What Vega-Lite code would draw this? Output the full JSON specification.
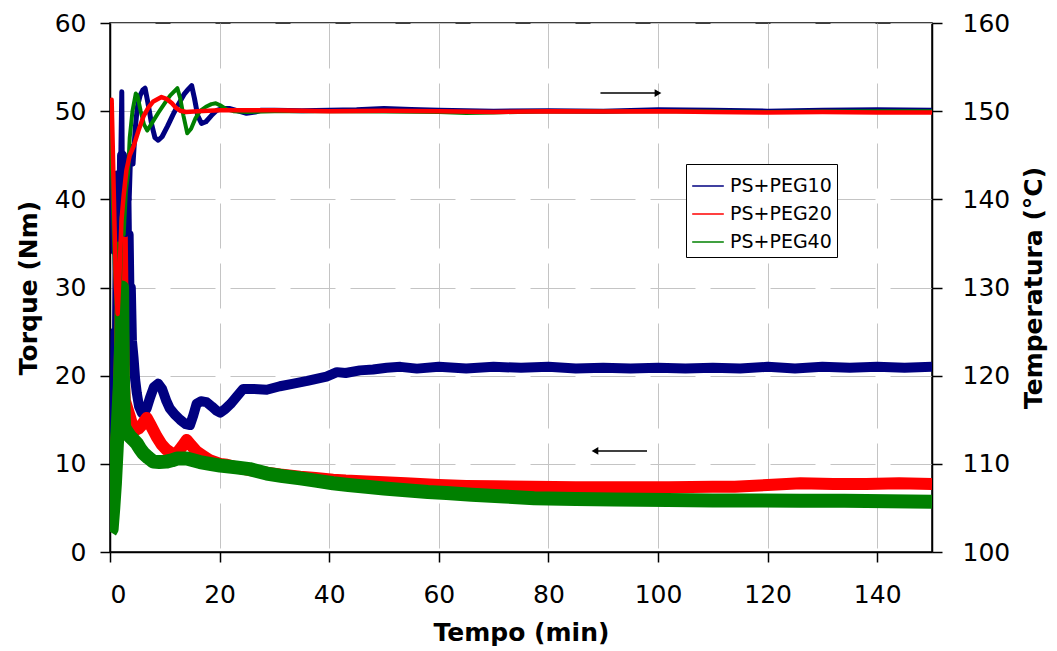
{
  "$schema": "https://vega.github.io/schema/vega-lite/v6.json",
  "width": 822,
  "height": 529,
  "autosize": {"type": "none"},
  "padding": {"left": 110, "top": 23, "right": 125, "bottom": 99},
  "background": "white",
  "config": {
    "font": "DejaVu Sans",
    "view": {"stroke": "black", "strokeWidth": 1.5},
    "axis": {
      "domainColor": "black", "tickColor": "black", "labelColor": "black", "titleColor": "black",
      "labelFont": "DejaVu Sans", "titleFont": "DejaVu Sans",
      "labelFontSize": 25, "titleFontSize": 25, "titleFontWeight": "bold",
      "gridColor": "#c4c4c4", "gridDash": [45, 15], "gridWidth": 1,
      "tickSize": 10, "domainWidth": 1.5, "tickWidth": 1.5
    }
  },
  "datasets": {
    "torque": [
      {"t":0.2,"v":4,"s":"PS+PEG10"},{"t":0.3,"v":3.3,"s":"PS+PEG10"},{"t":0.45,"v":10,"s":"PS+PEG10"},{"t":0.6,"v":16,"s":"PS+PEG10"},{"t":0.8,"v":12,"s":"PS+PEG10"},{"t":1.0,"v":25,"s":"PS+PEG10"},{"t":1.2,"v":18,"s":"PS+PEG10"},{"t":1.4,"v":35,"s":"PS+PEG10"},{"t":1.6,"v":28,"s":"PS+PEG10"},{"t":1.8,"v":42,"s":"PS+PEG10"},{"t":2.0,"v":33,"s":"PS+PEG10"},{"t":2.2,"v":45,"s":"PS+PEG10"},{"t":2.4,"v":38,"s":"PS+PEG10"},{"t":2.6,"v":44,"s":"PS+PEG10"},{"t":2.8,"v":35,"s":"PS+PEG10"},{"t":3.0,"v":40,"s":"PS+PEG10"},{"t":3.2,"v":30,"s":"PS+PEG10"},{"t":3.4,"v":36,"s":"PS+PEG10"},{"t":3.6,"v":27,"s":"PS+PEG10"},{"t":3.8,"v":30,"s":"PS+PEG10"},{"t":4.0,"v":24,"s":"PS+PEG10"},{"t":4.3,"v":22,"s":"PS+PEG10"},{"t":4.6,"v":19.5,"s":"PS+PEG10"},{"t":4.9,"v":18,"s":"PS+PEG10"},{"t":5.3,"v":16.5,"s":"PS+PEG10"},{"t":5.8,"v":15.8,"s":"PS+PEG10"},{"t":6.3,"v":15.9,"s":"PS+PEG10"},{"t":6.7,"v":16.3,"s":"PS+PEG10"},{"t":7.3,"v":17.5,"s":"PS+PEG10"},{"t":8.0,"v":18.7,"s":"PS+PEG10"},{"t":8.8,"v":19.1,"s":"PS+PEG10"},{"t":9.5,"v":18.5,"s":"PS+PEG10"},{"t":10.3,"v":17.1,"s":"PS+PEG10"},{"t":10.9,"v":16.3,"s":"PS+PEG10"},{"t":11.8,"v":15.6,"s":"PS+PEG10"},{"t":12.8,"v":15.0,"s":"PS+PEG10"},{"t":13.8,"v":14.5,"s":"PS+PEG10"},{"t":14.6,"v":14.4,"s":"PS+PEG10"},{"t":15.2,"v":15.5,"s":"PS+PEG10"},{"t":15.8,"v":16.8,"s":"PS+PEG10"},{"t":16.6,"v":17.1,"s":"PS+PEG10"},{"t":17.6,"v":17.0,"s":"PS+PEG10"},{"t":18.6,"v":16.5,"s":"PS+PEG10"},{"t":19.5,"v":16.0,"s":"PS+PEG10"},{"t":20.1,"v":15.8,"s":"PS+PEG10"},{"t":21.0,"v":16.2,"s":"PS+PEG10"},{"t":22.0,"v":16.8,"s":"PS+PEG10"},{"t":23.1,"v":17.6,"s":"PS+PEG10"},{"t":24.3,"v":18.5,"s":"PS+PEG10"},{"t":26,"v":18.5,"s":"PS+PEG10"},{"t":28.6,"v":18.4,"s":"PS+PEG10"},{"t":31,"v":18.8,"s":"PS+PEG10"},{"t":33.5,"v":19.1,"s":"PS+PEG10"},{"t":36,"v":19.4,"s":"PS+PEG10"},{"t":39.5,"v":19.9,"s":"PS+PEG10"},{"t":41.4,"v":20.4,"s":"PS+PEG10"},{"t":43,"v":20.3,"s":"PS+PEG10"},{"t":45.6,"v":20.6,"s":"PS+PEG10"},{"t":48,"v":20.7,"s":"PS+PEG10"},{"t":50.5,"v":20.9,"s":"PS+PEG10"},{"t":53,"v":21.0,"s":"PS+PEG10"},{"t":56,"v":20.8,"s":"PS+PEG10"},{"t":60,"v":21.0,"s":"PS+PEG10"},{"t":65,"v":20.8,"s":"PS+PEG10"},{"t":70,"v":21.0,"s":"PS+PEG10"},{"t":75,"v":20.9,"s":"PS+PEG10"},{"t":80,"v":21.0,"s":"PS+PEG10"},{"t":85,"v":20.8,"s":"PS+PEG10"},{"t":90,"v":20.9,"s":"PS+PEG10"},{"t":95,"v":20.8,"s":"PS+PEG10"},{"t":100,"v":20.9,"s":"PS+PEG10"},{"t":105,"v":20.8,"s":"PS+PEG10"},{"t":110,"v":20.9,"s":"PS+PEG10"},{"t":115,"v":20.8,"s":"PS+PEG10"},{"t":120,"v":21.0,"s":"PS+PEG10"},{"t":125,"v":20.8,"s":"PS+PEG10"},{"t":130,"v":21.0,"s":"PS+PEG10"},{"t":135,"v":20.9,"s":"PS+PEG10"},{"t":140,"v":21.0,"s":"PS+PEG10"},{"t":145,"v":20.9,"s":"PS+PEG10"},{"t":150,"v":21.0,"s":"PS+PEG10"},
      {"t":0.0,"v":2.3,"s":"PS+PEG20"},{"t":0.3,"v":3,"s":"PS+PEG20"},{"t":0.6,"v":6,"s":"PS+PEG20"},{"t":0.9,"v":10,"s":"PS+PEG20"},{"t":1.2,"v":13,"s":"PS+PEG20"},{"t":1.5,"v":15.3,"s":"PS+PEG20"},{"t":1.8,"v":22,"s":"PS+PEG20"},{"t":2.0,"v":30,"s":"PS+PEG20"},{"t":2.15,"v":36,"s":"PS+PEG20"},{"t":2.3,"v":28,"s":"PS+PEG20"},{"t":2.5,"v":20,"s":"PS+PEG20"},{"t":2.7,"v":17.2,"s":"PS+PEG20"},{"t":3.2,"v":16.2,"s":"PS+PEG20"},{"t":3.65,"v":15.3,"s":"PS+PEG20"},{"t":4.1,"v":14.3,"s":"PS+PEG20"},{"t":4.6,"v":13.8,"s":"PS+PEG20"},{"t":5.2,"v":14.0,"s":"PS+PEG20"},{"t":5.8,"v":14.4,"s":"PS+PEG20"},{"t":6.7,"v":15.2,"s":"PS+PEG20"},{"t":7.5,"v":14.3,"s":"PS+PEG20"},{"t":8.5,"v":13.1,"s":"PS+PEG20"},{"t":9.4,"v":12.2,"s":"PS+PEG20"},{"t":10.3,"v":11.6,"s":"PS+PEG20"},{"t":11.2,"v":11.2,"s":"PS+PEG20"},{"t":12.2,"v":11.2,"s":"PS+PEG20"},{"t":13.2,"v":12.0,"s":"PS+PEG20"},{"t":14.0,"v":12.7,"s":"PS+PEG20"},{"t":14.8,"v":12.1,"s":"PS+PEG20"},{"t":15.8,"v":11.4,"s":"PS+PEG20"},{"t":17.0,"v":10.9,"s":"PS+PEG20"},{"t":18.2,"v":10.4,"s":"PS+PEG20"},{"t":20.1,"v":10.0,"s":"PS+PEG20"},{"t":21.3,"v":9.9,"s":"PS+PEG20"},{"t":23,"v":9.6,"s":"PS+PEG20"},{"t":25.5,"v":9.3,"s":"PS+PEG20"},{"t":28.6,"v":9.0,"s":"PS+PEG20"},{"t":31,"v":8.8,"s":"PS+PEG20"},{"t":34.7,"v":8.55,"s":"PS+PEG20"},{"t":37.5,"v":8.4,"s":"PS+PEG20"},{"t":40.7,"v":8.2,"s":"PS+PEG20"},{"t":43,"v":8.1,"s":"PS+PEG20"},{"t":46.8,"v":8.0,"s":"PS+PEG20"},{"t":50,"v":7.9,"s":"PS+PEG20"},{"t":54,"v":7.8,"s":"PS+PEG20"},{"t":60,"v":7.6,"s":"PS+PEG20"},{"t":65,"v":7.5,"s":"PS+PEG20"},{"t":70,"v":7.45,"s":"PS+PEG20"},{"t":77,"v":7.4,"s":"PS+PEG20"},{"t":85,"v":7.35,"s":"PS+PEG20"},{"t":95,"v":7.35,"s":"PS+PEG20"},{"t":102,"v":7.35,"s":"PS+PEG20"},{"t":110,"v":7.4,"s":"PS+PEG20"},{"t":114,"v":7.4,"s":"PS+PEG20"},{"t":120,"v":7.6,"s":"PS+PEG20"},{"t":126,"v":7.8,"s":"PS+PEG20"},{"t":132,"v":7.7,"s":"PS+PEG20"},{"t":138,"v":7.7,"s":"PS+PEG20"},{"t":144,"v":7.8,"s":"PS+PEG20"},{"t":150,"v":7.7,"s":"PS+PEG20"},
      {"t":0.0,"v":2.3,"s":"PS+PEG40"},{"t":0.3,"v":2.6,"s":"PS+PEG40"},{"t":0.6,"v":5,"s":"PS+PEG40"},{"t":0.9,"v":7.8,"s":"PS+PEG40"},{"t":1.2,"v":11.5,"s":"PS+PEG40"},{"t":1.5,"v":15.3,"s":"PS+PEG40"},{"t":1.8,"v":19,"s":"PS+PEG40"},{"t":2.05,"v":24,"s":"PS+PEG40"},{"t":2.2,"v":30,"s":"PS+PEG40"},{"t":2.35,"v":20,"s":"PS+PEG40"},{"t":2.55,"v":14.2,"s":"PS+PEG40"},{"t":3.0,"v":13.7,"s":"PS+PEG40"},{"t":3.65,"v":13.1,"s":"PS+PEG40"},{"t":4.3,"v":12.7,"s":"PS+PEG40"},{"t":4.9,"v":12.3,"s":"PS+PEG40"},{"t":5.5,"v":11.7,"s":"PS+PEG40"},{"t":6.1,"v":11.2,"s":"PS+PEG40"},{"t":7.0,"v":10.7,"s":"PS+PEG40"},{"t":7.9,"v":10.25,"s":"PS+PEG40"},{"t":9.0,"v":10.2,"s":"PS+PEG40"},{"t":10.3,"v":10.25,"s":"PS+PEG40"},{"t":11.3,"v":10.4,"s":"PS+PEG40"},{"t":12.2,"v":10.6,"s":"PS+PEG40"},{"t":14.0,"v":10.6,"s":"PS+PEG40"},{"t":15.2,"v":10.4,"s":"PS+PEG40"},{"t":16.4,"v":10.2,"s":"PS+PEG40"},{"t":18.2,"v":10.0,"s":"PS+PEG40"},{"t":20.1,"v":9.8,"s":"PS+PEG40"},{"t":23,"v":9.6,"s":"PS+PEG40"},{"t":25.5,"v":9.4,"s":"PS+PEG40"},{"t":28.6,"v":8.9,"s":"PS+PEG40"},{"t":31.5,"v":8.6,"s":"PS+PEG40"},{"t":34.7,"v":8.35,"s":"PS+PEG40"},{"t":37.5,"v":8.1,"s":"PS+PEG40"},{"t":40.7,"v":7.8,"s":"PS+PEG40"},{"t":43.5,"v":7.6,"s":"PS+PEG40"},{"t":46.8,"v":7.4,"s":"PS+PEG40"},{"t":50,"v":7.2,"s":"PS+PEG40"},{"t":54,"v":7.0,"s":"PS+PEG40"},{"t":58,"v":6.8,"s":"PS+PEG40"},{"t":61.4,"v":6.7,"s":"PS+PEG40"},{"t":66,"v":6.5,"s":"PS+PEG40"},{"t":72,"v":6.3,"s":"PS+PEG40"},{"t":77.4,"v":6.1,"s":"PS+PEG40"},{"t":85,"v":6.0,"s":"PS+PEG40"},{"t":92,"v":5.95,"s":"PS+PEG40"},{"t":101.7,"v":5.9,"s":"PS+PEG40"},{"t":110,"v":5.85,"s":"PS+PEG40"},{"t":118,"v":5.85,"s":"PS+PEG40"},{"t":126,"v":5.8,"s":"PS+PEG40"},{"t":134,"v":5.8,"s":"PS+PEG40"},{"t":142,"v":5.75,"s":"PS+PEG40"},{"t":150,"v":5.7,"s":"PS+PEG40"}
    ],
    "temp": [
      {"t":0.0,"v":148.2,"s":"PS+PEG10"},{"t":0.2,"v":146,"s":"PS+PEG10"},{"t":0.4,"v":140,"s":"PS+PEG10"},{"t":0.6,"v":134,"s":"PS+PEG10"},{"t":0.8,"v":140,"s":"PS+PEG10"},{"t":1.0,"v":132,"s":"PS+PEG10"},{"t":1.2,"v":143,"s":"PS+PEG10"},{"t":1.4,"v":136,"s":"PS+PEG10"},{"t":1.6,"v":140,"s":"PS+PEG10"},{"t":1.8,"v":134,"s":"PS+PEG10"},{"t":2.0,"v":146,"s":"PS+PEG10"},{"t":2.15,"v":152.2,"s":"PS+PEG10"},{"t":2.3,"v":138,"s":"PS+PEG10"},{"t":2.6,"v":141,"s":"PS+PEG10"},{"t":2.9,"v":136,"s":"PS+PEG10"},{"t":3.2,"v":144,"s":"PS+PEG10"},{"t":3.5,"v":140,"s":"PS+PEG10"},{"t":3.8,"v":146,"s":"PS+PEG10"},{"t":4.2,"v":144,"s":"PS+PEG10"},{"t":4.6,"v":148,"s":"PS+PEG10"},{"t":5.0,"v":150.5,"s":"PS+PEG10"},{"t":5.5,"v":151.8,"s":"PS+PEG10"},{"t":6.0,"v":152.4,"s":"PS+PEG10"},{"t":6.4,"v":152.6,"s":"PS+PEG10"},{"t":6.9,"v":151,"s":"PS+PEG10"},{"t":7.6,"v":148.5,"s":"PS+PEG10"},{"t":8.2,"v":147,"s":"PS+PEG10"},{"t":8.8,"v":146.7,"s":"PS+PEG10"},{"t":9.5,"v":147.1,"s":"PS+PEG10"},{"t":10.5,"v":148.3,"s":"PS+PEG10"},{"t":11.5,"v":149.6,"s":"PS+PEG10"},{"t":12.5,"v":150.8,"s":"PS+PEG10"},{"t":13.5,"v":151.9,"s":"PS+PEG10"},{"t":14.3,"v":152.5,"s":"PS+PEG10"},{"t":14.9,"v":152.9,"s":"PS+PEG10"},{"t":15.4,"v":151.5,"s":"PS+PEG10"},{"t":16.0,"v":149.5,"s":"PS+PEG10"},{"t":16.7,"v":148.6,"s":"PS+PEG10"},{"t":17.5,"v":148.8,"s":"PS+PEG10"},{"t":18.5,"v":149.5,"s":"PS+PEG10"},{"t":19.5,"v":150.1,"s":"PS+PEG10"},{"t":20.5,"v":150.3,"s":"PS+PEG10"},{"t":21.9,"v":150.3,"s":"PS+PEG10"},{"t":23.5,"v":150,"s":"PS+PEG10"},{"t":24.9,"v":149.75,"s":"PS+PEG10"},{"t":26.5,"v":149.9,"s":"PS+PEG10"},{"t":27.5,"v":150.1,"s":"PS+PEG10"},{"t":30,"v":150.1,"s":"PS+PEG10"},{"t":35,"v":150.05,"s":"PS+PEG10"},{"t":40,"v":150.1,"s":"PS+PEG10"},{"t":45,"v":150.15,"s":"PS+PEG10"},{"t":50,"v":150.3,"s":"PS+PEG10"},{"t":55,"v":150.2,"s":"PS+PEG10"},{"t":60,"v":150.1,"s":"PS+PEG10"},{"t":70,"v":150.0,"s":"PS+PEG10"},{"t":80,"v":150.05,"s":"PS+PEG10"},{"t":90,"v":150.0,"s":"PS+PEG10"},{"t":100,"v":150.15,"s":"PS+PEG10"},{"t":110,"v":150.1,"s":"PS+PEG10"},{"t":120,"v":150.0,"s":"PS+PEG10"},{"t":130,"v":150.1,"s":"PS+PEG10"},{"t":140,"v":150.15,"s":"PS+PEG10"},{"t":150,"v":150.1,"s":"PS+PEG10"},
      {"t":0.0,"v":149.8,"s":"PS+PEG40"},{"t":0.1,"v":149.8,"s":"PS+PEG40"},{"t":0.3,"v":145,"s":"PS+PEG40"},{"t":0.6,"v":138,"s":"PS+PEG40"},{"t":0.9,"v":132,"s":"PS+PEG40"},{"t":1.2,"v":128,"s":"PS+PEG40"},{"t":1.5,"v":135,"s":"PS+PEG40"},{"t":1.8,"v":130,"s":"PS+PEG40"},{"t":2.1,"v":138,"s":"PS+PEG40"},{"t":2.5,"v":136,"s":"PS+PEG40"},{"t":2.9,"v":141,"s":"PS+PEG40"},{"t":3.3,"v":143,"s":"PS+PEG40"},{"t":3.6,"v":147,"s":"PS+PEG40"},{"t":4.1,"v":150,"s":"PS+PEG40"},{"t":4.7,"v":152,"s":"PS+PEG40"},{"t":5.0,"v":151.8,"s":"PS+PEG40"},{"t":5.6,"v":150,"s":"PS+PEG40"},{"t":6.2,"v":148.5,"s":"PS+PEG40"},{"t":6.8,"v":147.8,"s":"PS+PEG40"},{"t":7.5,"v":148.5,"s":"PS+PEG40"},{"t":8.8,"v":149.8,"s":"PS+PEG40"},{"t":10,"v":150.9,"s":"PS+PEG40"},{"t":11,"v":151.8,"s":"PS+PEG40"},{"t":12.3,"v":152.6,"s":"PS+PEG40"},{"t":12.8,"v":151.5,"s":"PS+PEG40"},{"t":13.4,"v":149.5,"s":"PS+PEG40"},{"t":14.1,"v":147.5,"s":"PS+PEG40"},{"t":14.8,"v":148,"s":"PS+PEG40"},{"t":15.6,"v":149.2,"s":"PS+PEG40"},{"t":16.4,"v":150,"s":"PS+PEG40"},{"t":17.5,"v":150.5,"s":"PS+PEG40"},{"t":18.5,"v":150.8,"s":"PS+PEG40"},{"t":19.3,"v":150.9,"s":"PS+PEG40"},{"t":20.3,"v":150.6,"s":"PS+PEG40"},{"t":21.3,"v":150.2,"s":"PS+PEG40"},{"t":22.5,"v":150,"s":"PS+PEG40"},{"t":25,"v":149.9,"s":"PS+PEG40"},{"t":30,"v":150.0,"s":"PS+PEG40"},{"t":40,"v":150.0,"s":"PS+PEG40"},{"t":50,"v":149.95,"s":"PS+PEG40"},{"t":60,"v":149.9,"s":"PS+PEG40"},{"t":65,"v":149.8,"s":"PS+PEG40"},{"t":70,"v":149.85,"s":"PS+PEG40"},{"t":80,"v":150.0,"s":"PS+PEG40"},{"t":90,"v":149.95,"s":"PS+PEG40"},{"t":100,"v":150.0,"s":"PS+PEG40"},{"t":110,"v":149.95,"s":"PS+PEG40"},{"t":120,"v":149.9,"s":"PS+PEG40"},{"t":130,"v":149.95,"s":"PS+PEG40"},{"t":140,"v":150.0,"s":"PS+PEG40"},{"t":150,"v":150.0,"s":"PS+PEG40"},
      {"t":0.0,"v":150.5,"s":"PS+PEG20"},{"t":0.3,"v":151.3,"s":"PS+PEG20"},{"t":0.5,"v":146,"s":"PS+PEG20"},{"t":0.8,"v":137.6,"s":"PS+PEG20"},{"t":1.1,"v":130,"s":"PS+PEG20"},{"t":1.4,"v":127,"s":"PS+PEG20"},{"t":1.7,"v":131,"s":"PS+PEG20"},{"t":2.1,"v":137.6,"s":"PS+PEG20"},{"t":2.5,"v":140.5,"s":"PS+PEG20"},{"t":3.0,"v":143.3,"s":"PS+PEG20"},{"t":3.6,"v":145,"s":"PS+PEG20"},{"t":4.3,"v":146,"s":"PS+PEG20"},{"t":5.2,"v":147.8,"s":"PS+PEG20"},{"t":6.1,"v":149.4,"s":"PS+PEG20"},{"t":7.0,"v":150.4,"s":"PS+PEG20"},{"t":7.9,"v":151.1,"s":"PS+PEG20"},{"t":9.4,"v":151.6,"s":"PS+PEG20"},{"t":10.3,"v":151.4,"s":"PS+PEG20"},{"t":11.3,"v":150.9,"s":"PS+PEG20"},{"t":12.0,"v":150.4,"s":"PS+PEG20"},{"t":12.8,"v":150.05,"s":"PS+PEG20"},{"t":13.9,"v":149.9,"s":"PS+PEG20"},{"t":16,"v":150.0,"s":"PS+PEG20"},{"t":20,"v":150.1,"s":"PS+PEG20"},{"t":30,"v":150.1,"s":"PS+PEG20"},{"t":40,"v":150.0,"s":"PS+PEG20"},{"t":50,"v":150.05,"s":"PS+PEG20"},{"t":60,"v":150.0,"s":"PS+PEG20"},{"t":70,"v":149.9,"s":"PS+PEG20"},{"t":80,"v":150.0,"s":"PS+PEG20"},{"t":90,"v":149.95,"s":"PS+PEG20"},{"t":100,"v":150.0,"s":"PS+PEG20"},{"t":110,"v":149.9,"s":"PS+PEG20"},{"t":120,"v":149.85,"s":"PS+PEG20"},{"t":130,"v":149.9,"s":"PS+PEG20"},{"t":140,"v":149.85,"s":"PS+PEG20"},{"t":150,"v":149.85,"s":"PS+PEG20"}
    ],
    "arrows": [
      {"t":89.5,"t2":100,"v":52.06,"dir":"right"},
      {"t":88.5,"t2":98,"v":11.46,"dir":"left"}
    ]
  },
  "layer": [
    {
      "layer": [
        {
          "data": {"name": "torque"},
          "mark": {"type": "line", "strokeJoin": "round", "clip": true},
          "encoding": {
            "x": {"field": "t", "type": "quantitative", "scale": {"domain": [0, 150], "nice": false},
                  "axis": {"values": [0, 20, 40, 60, 80, 100, 120, 140], "title": "Tempo (min)", "labelPadding": 20, "titlePadding": 13, "grid": true}},
            "y": {"field": "v", "type": "quantitative", "scale": {"domain": [0, 60], "nice": false},
                  "axis": {"values": [0, 10, 20, 30, 40, 50, 60], "title": "Torque (Nm)", "labelPadding": 14, "titlePadding": 13, "grid": true}},
            "color": {"field": "s", "type": "nominal",
                      "scale": {"domain": ["PS+PEG10", "PS+PEG20", "PS+PEG40"], "range": ["#000080", "#ff0000", "#008000"]},
                      "legend": {"title": null, "orient": "none", "legendX": 576, "legendY": 141, "strokeColor": "black", "fillColor": "white",
                                 "padding": 5, "symbolType": "stroke", "symbolStrokeWidth": 1.5, "symbolSize": 1000,
                                 "labelFontSize": 19, "labelFont": "DejaVu Sans", "labelColor": "black", "rowPadding": 1, "labelOffset": 5}},
            "strokeWidth": {"field": "s", "type": "nominal", "scale": {"domain": ["PS+PEG10", "PS+PEG20", "PS+PEG40"], "range": [10, 14, 9]}, "legend": null}
          }
        },
        {
          "data": {"name": "arrows"},
          "mark": {"type": "rule", "color": "black", "strokeWidth": 1.5},
          "encoding": {"x": {"field": "t", "type": "quantitative"}, "x2": {"field": "t2"}, "y": {"field": "v", "type": "quantitative"}}
        },
        {
          "data": {"name": "arrows"},
          "transform": [{"filter": "datum.dir == 'right'"}],
          "mark": {"type": "point", "shape": "triangle-right", "filled": true, "color": "black", "size": 60, "opacity": 1},
          "encoding": {"x": {"field": "t2", "type": "quantitative"}, "y": {"field": "v", "type": "quantitative"}}
        },
        {
          "data": {"name": "arrows"},
          "transform": [{"filter": "datum.dir == 'left'"}],
          "mark": {"type": "point", "shape": "triangle-left", "filled": true, "color": "black", "size": 60, "opacity": 1},
          "encoding": {"x": {"field": "t", "type": "quantitative"}, "y": {"field": "v", "type": "quantitative"}}
        }
      ]
    },
    {
      "data": {"name": "temp"},
      "mark": {"type": "line", "strokeJoin": "round", "clip": true},
      "encoding": {
        "x": {"field": "t", "type": "quantitative"},
        "y": {"field": "v", "type": "quantitative", "scale": {"domain": [100, 160], "nice": false},
              "axis": {"orient": "right", "values": [100, 110, 120, 130, 140, 150, 160], "title": "Temperatura (°C)", "labelPadding": 20, "titlePadding": 12, "grid": false, "titleAngle": 270, "titleBaseline": "top"}},
        "color": {"field": "s", "type": "nominal"},
        "strokeWidth": {"field": "s", "type": "nominal", "scale": {"domain": ["PS+PEG10", "PS+PEG20", "PS+PEG40"], "range": [5, 4, 3]}, "legend": null}
      }
    }
  ],
  "resolve": {"scale": {"y": "independent", "strokeWidth": "independent"}}
}
